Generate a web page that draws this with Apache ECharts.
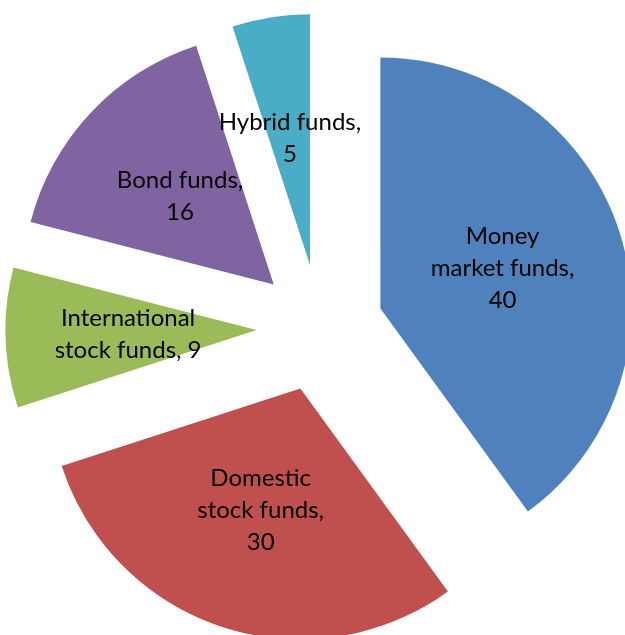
<!DOCTYPE html>
<html>
<head>
<meta charset="utf-8">
<script src="https://cdn.jsdelivr.net/npm/echarts@6/dist/echarts.min.js"></script>
<style>
  html, body { margin: 0; padding: 0; background: #ffffff; }
  #chart { width: 625px; height: 635px; }
</style>
</head>
<body>
<div id="chart"></div>
<script>
// Fund categories (clockwise from 12 o'clock) and their shares
const categories = [
  'Money\nmarket funds,',
  'Domestic\nstock funds,',
  'International\nstock funds,',
  'Bond funds,',
  'Hybrid funds,'
];
const values = [40, 30, 9, 16, 5];
const colors = ['#4F81BD', '#C0504D', '#9BBB59', '#8064A2', '#4BACC6'];
// International puts its value on the same line as the name
const valueOnSameLine = [false, false, true, false, false];

const chart = echarts.init(document.getElementById('chart'), null, { renderer: 'canvas' });

const data = categories.map((name, i) => ({
  name: name,
  value: values[i],
  selected: true,
  itemStyle: { color: colors[i] }
}));
// nudge the hybrid label a little lower inside its thin slice
data[4].label = { padding: [10, 0, 0, 0] };

chart.setOption({
  animation: false,
  backgroundColor: '#ffffff',
  series: [{
    type: 'pie',
    center: [320, 328],
    radius: [0, 251],
    startAngle: 90,
    clockwise: true,
    selectedMode: 'multiple',
    selectedOffset: 63.5,
    avoidLabelOverlap: false,
    minShowLabelAngle: 0,
    data: data,
    itemStyle: { borderWidth: 0 },
    select: { itemStyle: { borderWidth: 0 } },
    emphasis: { disabled: true },
    labelLayout: { hideOverlap: false },
    label: {
      show: true,
      position: 'inner',
      color: '#000000',
      fontFamily: 'Lato',
      fontSize: 24,
      lineHeight: 32,
      align: 'center',
      formatter: function (p) {
        const i = p.dataIndex;
        return p.name + (valueOnSameLine[i] ? ' ' : '\n') + p.value;
      }
    },
    labelLine: { show: false }
  }]
});
</script>
</body>
</html>
